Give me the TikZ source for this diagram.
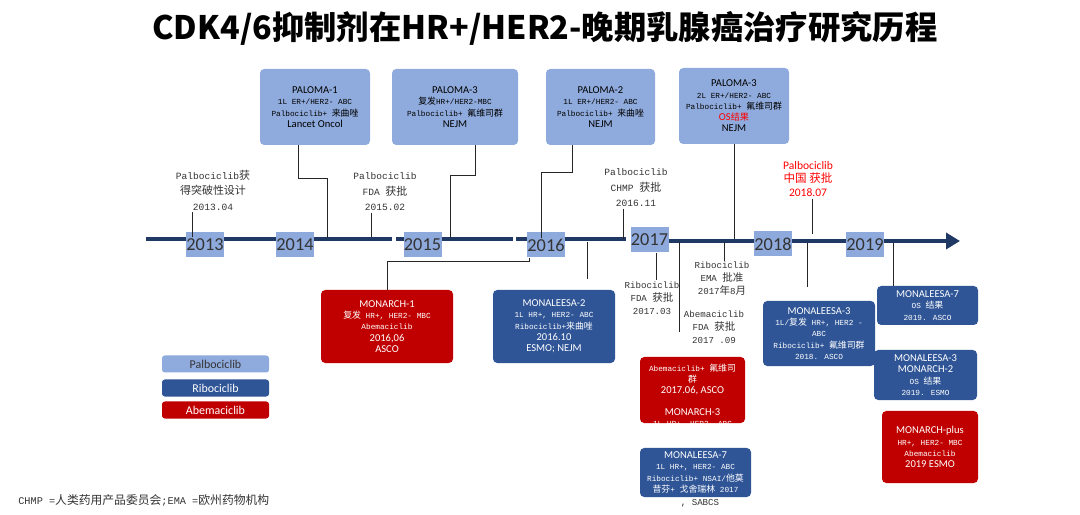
\documentclass[tikz,border=0pt]{standalone}
\usepackage{fontspec}
\setmainfont{Carlito}
\newfontfamily\cjk{Noto Sans CJK SC}[Scale=1.15]
\newfontfamily\cjkt{Noto Sans CJK SC}
\newfontfamily\mono{Liberation Mono}
\usetikzlibrary{arrows.meta}

\definecolor{palblue}{HTML}{8FAADC}
\definecolor{riboblue}{HTML}{2F5597}
\definecolor{abemared}{HTML}{C00000}
\definecolor{navy}{HTML}{203864}
\definecolor{yearblue}{HTML}{8EA9DB}
\definecolor{txtgray}{HTML}{333333}

\newcommand\zh[1]{{\cjk #1}}
\newcommand\sm{\mono\fontsize{5.5}{8}\selectfont}

\tikzset{
	trial/.style={rounded corners=3pt, align=center, inner sep=1pt, font=\fontsize{7.5}{8}\selectfont},
	pal/.style={trial, fill=palblue, text=black},
	ribo/.style={trial, fill=riboblue, text=white},
	abema/.style={trial, fill=abemared, text=white},
	year/.style={fill=yearblue, text=txtgray, font=\fontsize{13}{13}\selectfont, inner sep=0pt, minimum width=9.5mm, minimum height=6.25mm},
	note/.style={align=center, text=txtgray, inner sep=1pt, font=\mono\fontsize{6.8}{11}\selectfont},
	notel/.style={note, font=\mono\fontsize{6.5}{9.3}\selectfont},
	rednote/.style={align=center, text=red, inner sep=1pt, font=\fontsize{8.2}{9.8}\selectfont},
	conn/.style={draw=black!85, line width=0.6pt},
	tl/.style={draw=navy, line width=1.15mm},
	legend/.style={rounded corners=2pt, minimum width=26.75mm, minimum height=4.25mm, inner sep=0pt, font=\fontsize{8.5}{9}\selectfont},
}

\begin{document}
\begin{tikzpicture}[x=0.25mm, y=-0.25mm]
		\useasboundingbox (0,0) rectangle (1080,515);

		\node[font=\cjkt\bfseries\fontsize{23}{25}\selectfont] (title) at (545,28) {CDK4/6抑制剂在HR+/HER2-晚期乳腺癌治疗研究历程};

		% time line
		\draw[tl] (146,239) -- (392,239);
		\draw[tl] (396,239) -- (513,239);
		\draw[tl] (516,239) -- (626,239);
		\draw[tl, -{Triangle[length=3.5mm,width=4mm]}] (668,241) -- (960,241);

		\foreach \yr/\xx/\yy in {2013/205/245, 2014/295/245, 2015/422.5/245, 2016/546/245,
			2017/649.5/240, 2018/773/244, 2019/865/244.5}{
			\node[year] (y\yr) at (\xx,\yy) {\yr};
		}

		\coordinate (t13) at (192,237);
		\coordinate (t14) at (327,238);
		\coordinate (t15a) at (371,237);
		\coordinate (t15b) at (450,238);
		\coordinate (t16a) at (541,238);
		\coordinate (t16b) at (587,242);
		\coordinate (t16c) at (623,239);
		\coordinate (t17a) at (656,253);
		\coordinate (t17b) at (679,242);
		\coordinate (e17b) at (679,332);
		\coordinate (t17c) at (724,242);
		\coordinate (t17d) at (734,239);
		\coordinate (t18a) at (812,234);
		\coordinate (t18b) at (807,243);
		\coordinate (t19) at (893,243);

		% palbociclib trials
		\node[pal, minimum width=27.5mm, minimum height=19mm] (pa1) at (315,107)
			{PALOMA-1\\{\sm 1L ER+/HER2- ABC}\\{\sm Palbociclib+ \zh{来曲唑}}\\Lancet Oncol};
		\node[pal, minimum width=31.5mm, minimum height=19mm] (pa3) at (455,107)
			{PALOMA-3\\{\sm \zh{复发}HR+/HER2-MBC}\\{\sm Palbociclib+ \zh{氟维司群}}\\NEJM};
		\node[pal, minimum width=27.25mm, minimum height=19mm] (pa2) at (600.5,107)
			{PALOMA-2\\{\sm 1L ER+/HER2- ABC}\\{\sm Palbociclib+ \zh{来曲唑}}\\NEJM};
		\node[pal, minimum width=27.5mm, minimum height=19mm] (pa3b) at (734,106)
			{PALOMA-3\\{\sm 2L ER+/HER2- ABC}\\{\sm Palbociclib+ \zh{氟维司群}}\\{\color{red}OS{\cjkt\fontsize{6.5}{8}\selectfont 结果}}\\NEJM};

		\draw[conn] ([xshift=-4.25mm]pa1.south) |- (327,178) -- (t14);
		\draw[conn] ([xshift=5mm]pa3.south) |- (450,175) -- (t15b);
		\draw[conn] ([xshift=-7.1mm]pa2.south) |- (541,172) -- (t16a);
		\draw[conn] (pa3b.south) -- (t17d);

		% approvals above the line
		\node[note] (n1304) at (213,190) {Palbociclib\zh{获}\\\zh{得突破性设计}\\2013.04};
		\node[note] (n1502) at (385,192) {Palbociclib\\FDA \zh{获批}\\2015.02};
		\node[note] (n1611) at (636,188) {Palbociclib\\CHMP \zh{获批}\\2016.11};
		\node[rednote] (n1807) at (808,179) {Palbociclib\\{\cjkt 中国 获批}\\2018.07};

		\draw[conn] (n1304.south -| t13) -- (t13);
		\draw[conn] (n1502.south -| t15a) -- (t15a);
		\draw[conn] (n1611.south -| t16c) -- (t16c);
		\draw[conn] (n1807.south -| t18a) -- (t18a);

		% approvals below the line
		\node[notel] (nrfda) at (652,298) {Ribociclib\\FDA \zh{获批}\\2017.03};
		\node[notel] (nrema) at (722,279) {Ribociclib\\EMA \zh{批准}\\2017\zh{年}8\zh{月}};
		\node[notel] (nafda) at (714,327) {Abemaciclib\\FDA \zh{获批}\\2017 .09};

		\draw[conn] (t17a) -- (t17a |- nrfda.north);
		\draw[conn] (t17c) -- (t17c |- nrema.north);
		\draw[conn] (t17b) -- (e17b);

		% ribociclib / abemaciclib trials
		\node[abema, minimum width=33mm, minimum height=18.25mm] (mo1) at (387,326.5)
			{MONARCH-1\\{\sm \zh{复发} HR+, HER2- MBC}\\{\sm Abemaciclib}\\2016,06\\ASCO};
		\node[ribo, minimum width=30.5mm, minimum height=18.25mm] (ml2) at (554,326.5)
			{MONALEESA-2\\{\sm 1L HR+, HER2- ABC}\\{\sm Ribociclib+\zh{来曲唑}}\\2016.10\\ESMO; NEJM};
		\node[abema, minimum width=26.25mm, minimum height=16.5mm] (mo3) at (692.5,390) {};
		\begin{scope}
			\clip (mo3.south west) rectangle (mo3.north east);
			\node[align=center, text=white, inner sep=0pt, font=\fontsize{7.5}{8}\selectfont] (mo3txt) at (692.5,396)
				{{\sm Abemaciclib+ \zh{氟维司}}\\{\sm \zh{群}}\\2017.06, ASCO\\[7.5pt]MONARCH-3\\{\sm 1L HR+, HER2- ABC}};
		\end{scope}
		\node[ribo, minimum width=27.75mm, minimum height=12.25mm] (ml7) at (695.5,472.5)
			{MONALEESA-7\\{\sm 1L HR+, HER2- ABC}\\{\sm Ribociclib+ NSAI/\zh{他莫}}\\{\sm \zh{昔芬}+ \zh{戈舍瑞林} 2017}};
		\node[notel] (ml7x) at (700,503) {, SABCS};
		\node[ribo, minimum width=28mm, minimum height=16.25mm] (ml3) at (819,333.5)
			{MONALEESA-3\\{\sm 1L/\zh{复发} HR+, HER2 -}\\{\sm ABC}\\{\sm Ribociclib+ \zh{氟维司群}}\\{\sm 2018. ASCO}};
		\node[ribo, minimum width=25.25mm, minimum height=9.75mm] (ml7os) at (927.5,305.5)
			{MONALEESA-7\\{\sm OS \zh{结果}}\\{\sm 2019. ASCO}};
		\node[ribo, minimum width=25.75mm, minimum height=12.5mm] (mlmo) at (925.5,375)
			{MONALEESA-3\\MONARCH-2\\{\sm OS \zh{结果}}\\{\sm 2019. ESMO}};
		\node[abema, minimum width=24mm, minimum height=18mm] (moplus) at (930,447)
			{MONARCH-plus\\{\sm HR+, HER2- MBC}\\{\sm Abemaciclib}\\2019 ESMO};

		\draw[conn] ([xshift=-4.25mm]y2016.south) |- ([yshift=7mm]mo1.north) -- (mo1.north);
		\draw[conn, shorten >=2.75mm] (t16b) -- (t16b |- ml2.north);
		\draw[conn, shorten >=3.5mm] (t18b) -- (t18b |- ml3.north);
		\draw[conn] (t19) -- (t19 |- ml7os.north);

		% legend
		\node[legend, fill=palblue, text=txtgray] (lgpal) at (215.5,364) {Palbociclib};
		\node[legend, fill=riboblue, text=white] (lgribo) at (215.5,388) {Ribociclib};
		\node[legend, fill=abemared, text=white] (lgabema) at (215.5,410) {Abemaciclib};

		\node[anchor=west, inner sep=0pt, text=txtgray, font=\mono\fontsize{7.3}{8}\selectfont] (foot) at (18,500)
			{CHMP =\zh{人类药用产品委员会};EMA =\zh{欧州药物机构}};
\end{tikzpicture}
\end{document}
